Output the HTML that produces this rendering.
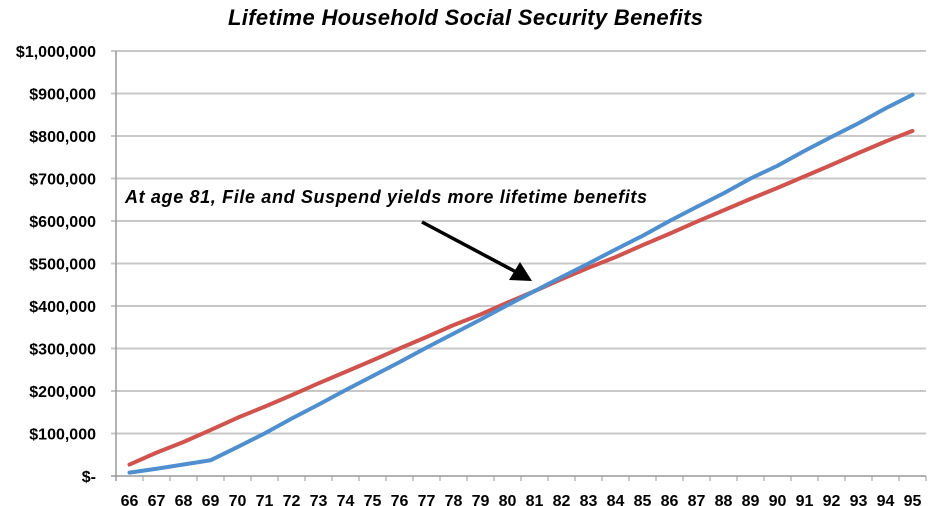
<!DOCTYPE html>
<html><head><meta charset="utf-8"><style>
body{margin:0;background:#fff}
svg{display:block;font-family:"Liberation Sans",sans-serif}
</style></head><body>
<svg id="chart" width="931" height="506">
<text x="228" y="25" font-size="22" font-weight="bold" font-style="italic" textLength="475">Lifetime Household Social Security Benefits</text>
<g id="grid"></g><g id="yl"></g><g id="xl"></g><g id="lines"></g>
<text x="125" y="203" font-size="18" font-weight="bold" font-style="italic" textLength="522">At age 81, File and Suspend yields more lifetime benefits</text>
<g>
<line x1="422" y1="222" x2="518" y2="273" stroke="#000" stroke-width="3.5"/>
<polygon points="532,281 509,280 520,262" fill="#000"/>
</g>
</svg>
<script>
const ages=[66,67,68,69,70,71,72,73,74,75,76,77,78,79,80,81,82,83,84,85,86,87,88,89,90,91,92,93,94,95];
const fileSuspend=[8,17,27,37,68,100,135,168,202,235,268,302,335,368,402,435,468,500,533,565,600,633,665,700,730,765,798,830,865,897];
const earlyClaim=[27,55,80,108,137,163,190,218,245,272,300,327,355,380,408,435,463,490,515,543,570,598,625,652,678,705,732,760,787,812];
const yTicks=[0,100,200,300,400,500,600,700,800,900,1000];
const yTickLabels=["$-","$100,000","$200,000","$300,000","$400,000","$500,000","$600,000","$700,000","$800,000","$900,000","$1,000,000"];
const NS="http://www.w3.org/2000/svg";
const L=116,R=926,T=51,B=476;
const band=(R-L)/ages.length;
const x=i=>L+band*(i+0.5);
const y=v=>B-(v/1000)*(B-T);
function mk(p,tag,a){const e=document.createElementNS(NS,tag);for(const k in a)e.setAttribute(k,a[k]);document.getElementById(p).appendChild(e);return e;}
yTicks.forEach((v,i)=>{
 const g=mk('grid','line',{x1:L-5,x2:R,y1:y(v),y2:y(v),stroke:i==0?'#999':'#c8c8c8','stroke-width':i==0?1.5:2});
 
 
 const t=mk('yl','text',{x:96,y:y(v)+6,'text-anchor':'end','font-size':16,'font-weight':'bold'});
 t.textContent=yTickLabels[i];
 
 
});
mk('grid','line',{x1:L,x2:L,y1:T,y2:B+5,stroke:'#999','stroke-width':1.5});
ages.forEach((a,i)=>{
 const tk=mk('grid','line',{x1:L+band*(i+1),x2:L+band*(i+1),y1:B,y2:B+5,stroke:'#999','stroke-width':1});
 
 
 const t=mk('xl','text',{x:x(i),y:506,'text-anchor':'middle','font-size':16,'font-weight':'bold'});
 t.textContent=a;
 
 
});
function line(d,c,n){
 const p=mk('lines','polyline',{points:d.map((v,i)=>x(i)+','+y(v)).join(' '),fill:'none',stroke:c,'stroke-width':4,'stroke-linejoin':'round','stroke-linecap':'round'});
 
 
}
line(earlyClaim,'#d0534d','early-claim-line');
line(fileSuspend,'#4f8fcf','file-and-suspend-line');
</script>
</body></html>
